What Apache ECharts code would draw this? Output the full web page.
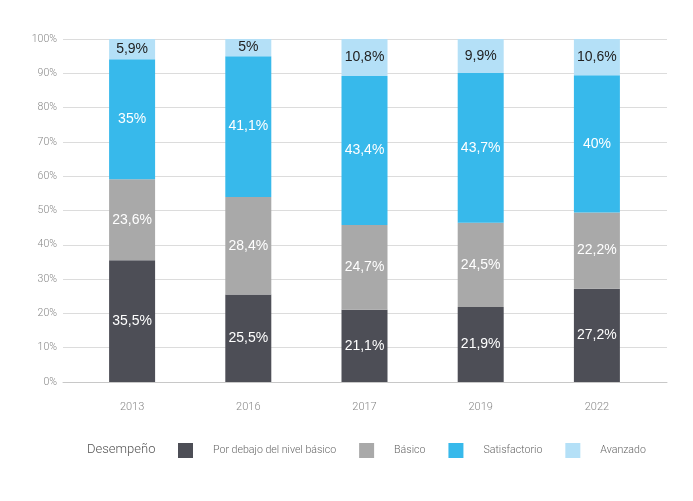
<!DOCTYPE html>
<html><head><meta charset="utf-8">
<script src="https://cdn.jsdelivr.net/npm/echarts@6/dist/echarts.min.js"></script>
<style>html,body{margin:0;padding:0;background:#fff}#c{width:693px;height:501px}</style>
</head><body><div id="c"></div>
<script>
const categories = ['2013','2016','2017','2019','2022'];
const porDebajo = [35.5, 25.5, 21.1, 21.9, 27.2];
const basico = [23.6, 28.4, 24.7, 24.5, 22.2];
const satisfactorio = [35, 41.1, 43.4, 43.7, 40];
const avanzado = [5.9, 5, 10.8, 9.9, 10.6];
const yTicks = [0,10,20,30,40,50,60,70,80,90,100];

const chart = echarts.init(document.getElementById('c'));
const fmt = p => String(p.value).replace('.', ',') + '%';
function ser(name, data, color, labelColor){
  return {name, type:'bar', stack:'s', data, xAxisIndex:1, yAxisIndex:1, barWidth:46,
    itemStyle:{color},
    label:{show:true, position:'inside', formatter:fmt, color:labelColor,
      fontFamily:'Liberation Sans', fontSize:14}};
}
chart.setOption({
  animation:false,
  graphic:[{type:'text', x:87, y:450, style:{text:'Desempeño', fontFamily:'Roboto', fontWeight:300, fontSize:13, fill:'#555', verticalAlign:'middle'}}],
  legend:{left:178, top:443, padding:0, itemWidth:15, itemHeight:15, itemGap:23, icon:'rect',
    textStyle:{fontFamily:'Roboto', fontWeight:300, fontSize:10.6, color:'#666', padding:[0,0,0,15]},
    data:['Por debajo del nivel básico','Básico','Satisfactorio','Avanzado']},
  grid:[{left:63, right:26, top:39, bottom:119},{left:74, right:38, top:39, bottom:119}],
  xAxis:[
    {gridIndex:0, type:'category', data:categories, show:true, axisLine:{show:true, lineStyle:{color:'#c8c8c8'}}, axisTick:{show:false}, axisLabel:{show:false}},
    {gridIndex:1, type:'category', data:categories, axisLine:{show:false}, axisTick:{show:false},
      axisLabel:{margin:20, color:'#888', fontFamily:'Roboto', fontWeight:300, fontSize:11}}
  ],
  yAxis:[
    {gridIndex:0, type:'value', min:0, max:100, interval:10,
      axisLabel:{formatter:v=>v+'%', color:'#888', fontFamily:'Roboto', fontWeight:300, fontSize:10.5, margin:6},
      splitLine:{lineStyle:{color:'#dcdcdc'}}, axisLine:{show:false}, axisTick:{show:false}},
    {gridIndex:1, type:'value', min:0, max:100, interval:10, show:false, splitLine:{show:false}}
  ],
  series:[
    ser('Por debajo del nivel básico', porDebajo, '#4d4e56', '#fff'),
    ser('Básico', basico, '#a9a9a9', '#fff'),
    ser('Satisfactorio', satisfactorio, '#37b9eb', '#fff'),
    ser('Avanzado', avanzado, '#b4e0f7', '#222')
  ]
});
</script></body></html>
